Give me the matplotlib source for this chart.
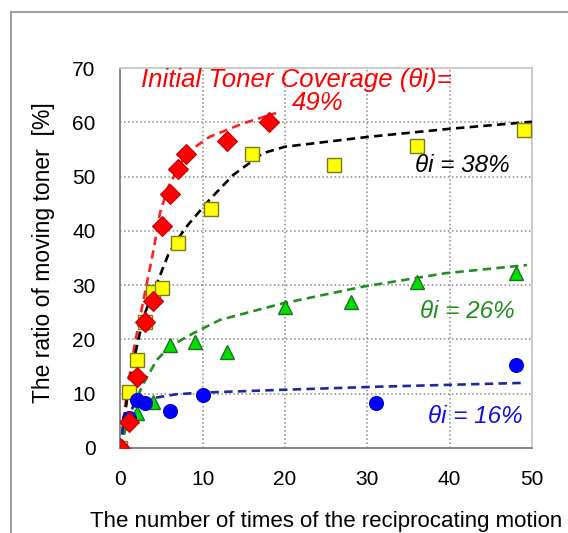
import matplotlib
matplotlib.use('Agg')
import matplotlib.pyplot as plt
from matplotlib.lines import Line2D

plt.rcParams['font.family'] = ['Liberation Sans', 'DejaVu Sans']

# measured points (coverage 49, 38, 26, 16 %)
x_49 = [0, 1, 2, 3, 4, 5, 6, 7, 8, 13, 18]
y_49 = [0, 4.7, 13.1, 23.3, 27.1, 40.9, 46.8, 51.4, 54.1, 56.6, 60.1]
x_38 = [0, 1, 2, 3, 4, 5, 7, 11, 16, 26, 36, 49]
y_38 = [0, 10.4, 16.2, 23.3, 28.8, 29.4, 37.7, 44.0, 54.1, 52.1, 55.6, 58.6]
x_26 = [0, 2, 4, 6, 9, 13, 20, 28, 36, 48]
y_26 = [0, 6.4, 8.5, 19.0, 19.6, 17.7, 26.0, 26.9, 30.6, 32.3]
x_16 = [0, 1, 2, 3, 6, 10, 31, 48]
y_16 = [0, 5.5, 8.8, 8.2, 6.9, 9.8, 8.3, 15.2]

# fitted curves
fx_49 = [0, 0.75, 1.76, 2.8, 4.0, 4.8, 5.8, 8.0, 10.8, 14.9, 18.9]
fy_49 = [0, 10.1, 19.3, 27.3, 36.3, 43.3, 48.1, 54.3, 57.3, 59.8, 61.7]
fx_38 = [0, 0.95, 1.8, 2.8, 4.6, 5.8, 7.0, 8.2, 10.8, 13.7, 17.3, 20, 30, 40, 50]
fy_38 = [0, 10.7, 17.4, 24.2, 31.0, 35.6, 38.6, 41.1, 45.7, 50.3, 54.3, 55.5, 57.3, 58.8, 60.1]
fx_26 = [0, 1.15, 2.8, 4.4, 6.0, 8.8, 12.1, 19.6, 29.4, 39.5, 49.4]
fy_26 = [0, 6.4, 11.9, 16.2, 18.7, 21.1, 23.6, 26.6, 29.7, 32.2, 33.7]
fx_16 = [0, 0.35, 1.55, 4.0, 6.8, 10, 19.3, 31.5, 49.2]
fy_16 = [0, 4.5, 7.6, 9.2, 9.9, 10.2, 10.7, 11.3, 12.0]

fig = plt.figure(figsize=(5.68, 5.33), dpi=100)
ax = fig.add_axes([0.2121, 0.1595, 0.7245, 0.7129])

# outer frame (cut at right/bottom)
fig.add_artist(Line2D([11/568, 1], [1-12/533, 1-12/533], transform=fig.transFigure, color='#a0a0a0', lw=1.5))
fig.add_artist(Line2D([11/568, 11/568], [0, 1-12/533], transform=fig.transFigure, color='#a0a0a0', lw=1.5))

dash = (3.2, 2.0)
lw = 1.9
ax.plot(fx_49, fy_49, color='#ff2020', lw=lw, dashes=dash, zorder=3)
ax.plot(fx_38, fy_38, color='black', lw=lw, dashes=dash, zorder=3)
ax.plot(fx_26, fy_26, color='#1f8f1f', lw=lw, dashes=dash, zorder=3)
ax.plot(fx_16, fy_16, color='#1c2a9c', lw=lw, dashes=dash, zorder=3)

ax.plot(x_38, y_38, 's', ms=10, mfc='#ffff00', mec='#7a7a20', mew=1, ls='', zorder=4)
ax.plot(x_26, y_26, '^', ms=10, mfc='#00e000', mec='#207020', mew=1, ls='', zorder=5)
ax.plot(x_16, y_16, 'o', ms=10, mfc='#0000ff', mec='#0000cc', mew=0.8, ls='', zorder=6)
ax.plot(x_49, y_49, 'D', ms=10, mfc='#ff0000', mec='#c00000', mew=0.8, ls='', zorder=7)

ax.set_xlim(0, 50)
ax.set_ylim(0, 70)
ax.set_xticks(range(0, 51, 10))
ax.set_yticks(range(0, 71, 10))
ax.tick_params(length=0, labelsize=15)
ax.tick_params(axis='x', pad=16)
ax.tick_params(axis='y', pad=18)
ax.grid(True, color='#8a8a8a', ls=':', lw=1.1)
ax.set_axisbelow(True)
ax.spines['left'].set_color('#808080')
ax.spines['bottom'].set_color('#808080')
ax.spines['top'].set_color('#c8c8c8')
ax.spines['right'].set_color('#c8c8c8')
for s in ax.spines.values():
    s.set_linewidth(1.3)

ax.set_xlabel('The number of times of the reciprocating motion', fontsize=16, labelpad=16)
ax.set_ylabel('The ratio of moving toner  [%]', fontsize=16.5)
ax.yaxis.set_label_coords(-0.159, 0.514)

ax.text(21.4, 67.8, 'Initial Toner Coverage (\u03b8i)=', color='#ff0000', style='italic',
        fontsize=18.5, ha='center', va='center')
ax.text(23.9, 63.5, '49%', color='#ff0000', style='italic', fontsize=18.5, ha='center', va='center')
ax.text(41.6, 52.1, '\u03b8i = 38%', color='black', style='italic', fontsize=17.5, ha='center', va='center')
ax.text(42.2, 25.1, '\u03b8i = 26%', color='#1f8f1f', style='italic', fontsize=17.5, ha='center', va='center')
ax.text(43.1, 5.8, '\u03b8i = 16%', color='#1010e0', style='italic', fontsize=17.5, ha='center', va='center')

plt.savefig('out.png', dpi=100)
